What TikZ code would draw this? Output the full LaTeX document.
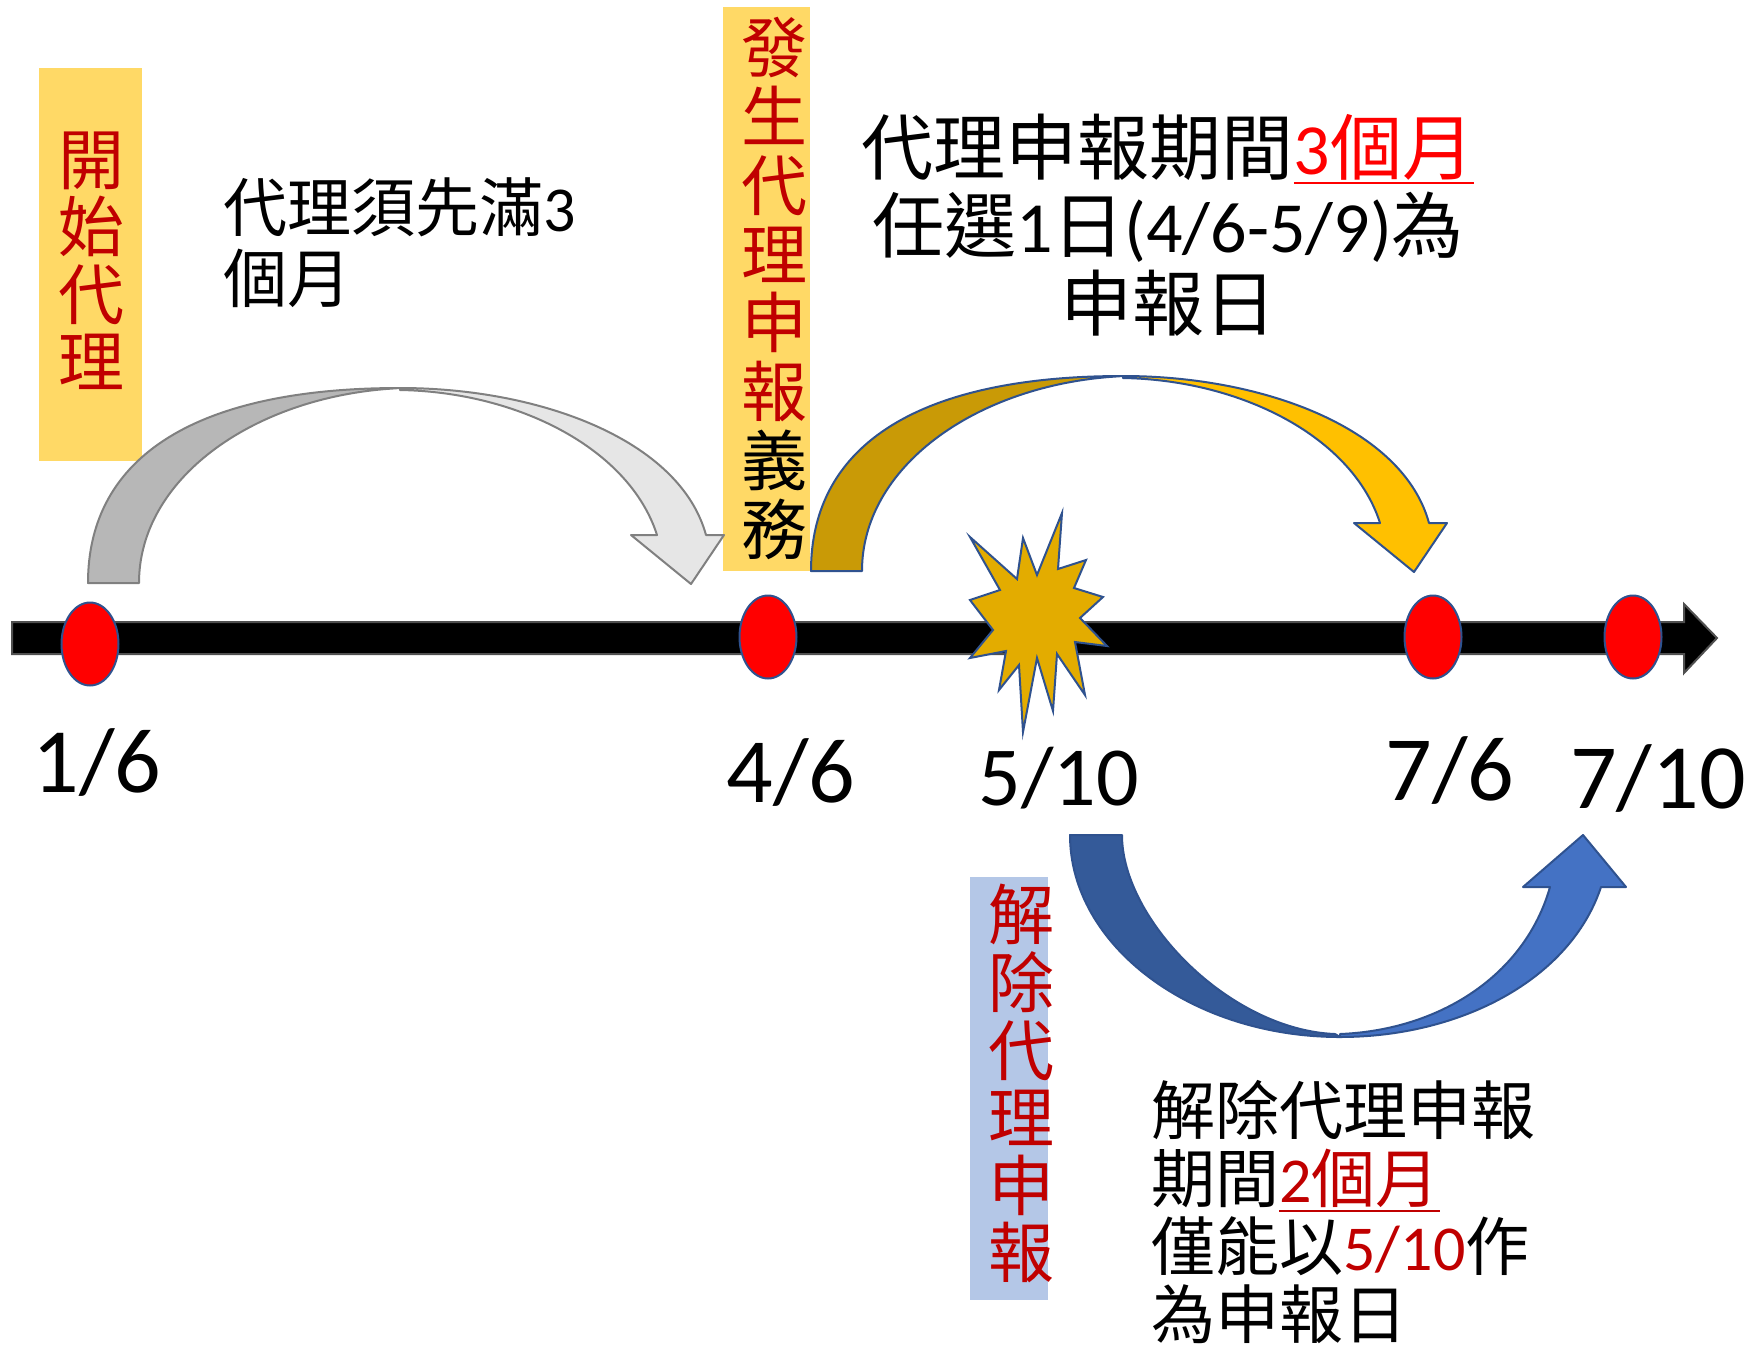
\documentclass[tikz,border=0pt]{standalone}
\usepackage{fontspec}
\setmainfont{Noto Sans CJK TC}
\newfontfamily\num{Carlito}
\newcommand{\uln}[1]{\leavevmode\setbox0\hbox{#1}\rlap{\rule[-4.5pt]{\wd0}{1pt}}\box0}
\usetikzlibrary{shapes.geometric}
\definecolor{boxyellow}{HTML}{FFD966}
\definecolor{boxblue}{HTML}{B4C7E7}
\definecolor{darkred}{HTML}{C00000}
\definecolor{edgeblue}{HTML}{2F528F}
\definecolor{graydark}{HTML}{B7B7B7}
\definecolor{graylight}{HTML}{E6E6E6}
\definecolor{grayedge}{HTML}{808080}
\definecolor{golddark}{HTML}{C99A06}
\definecolor{goldlight}{HTML}{FFC000}
\definecolor{bluedark}{HTML}{345A99}
\definecolor{bluelight}{HTML}{4472C4}
\definecolor{burst}{HTML}{E3AC00}
\definecolor{axisedge}{HTML}{505050}
\tikzset{
  datept/.style={ellipse,draw=edgeblue,line width=1pt,fill=red,minimum width=28.5pt,minimum height=41.5pt,inner sep=0pt},
  datelabel/.style={inner sep=0pt,anchor=base,font=\num\fontsize{46pt}{50pt}\selectfont},
  boxtext/.style={inner sep=0pt,anchor=north,align=center,text=darkred,font=\fontsize{33pt}{33.8pt}\selectfont},
  note/.style={inner sep=0pt,align=left,anchor=north west},
}
\newcommand{\humparrow}[4]{%
  \begin{scope}[shift={#1},line width=1pt,line join=round]
    \filldraw[fill=#2,draw=#4] (0,0) .. controls (0,-127) and (109,-195) .. (312,-195) -- (298,-194) .. controls (162,-183) and (51,-103) .. (51,0) -- cycle;
    \filldraw[fill=#3,draw=#4] (312,-195) .. controls (452,-195) and (592,-143) .. (618,-48) -- (636,-48) -- (603,1) -- (543,-48) -- (569,-48) .. controls (542,-133) and (432,-191) .. (312,-193) -- cycle;
  \end{scope}}
\begin{document}
\begin{tikzpicture}[x=0.5pt,y=-0.5pt]
    \useasboundingbox (0,0) rectangle (1763,1346);
    \fill[boxyellow] (39,68) rectangle (142,461);
    \fill[boxyellow] (723,7) rectangle (810,571);
    \fill[boxblue] (970,877) rectangle (1048,1300);
    \humparrow{(88,583)}{graydark}{graylight}{grayedge}
    \humparrow{(811,571)}{golddark}{goldlight}{edgeblue}
    \begin{scope}[line width=1pt,line join=round,draw=edgeblue]
    \filldraw[fill=bluedark] (1070,835) .. controls (1070,945) and (1191,1037) .. (1340,1037) -- (1335,1034) .. controls (1230,1030) and (1122,920) .. (1122,835) -- cycle;
    \filldraw[fill=bluelight] (1340,1037) .. controls (1460,1037) and (1570,980) .. (1601,887) -- (1626,887) -- (1583,835) -- (1523,887) -- (1550,887) .. controls (1525,975) and (1440,1030) .. (1340,1034) -- cycle;
    \end{scope}
    \filldraw[fill=black,draw=axisedge,line width=1pt] (12,622) -- (1684,622) -- (1684,604) -- (1717,638) -- (1684,673) -- (1684,654) -- (12,654) -- cycle;
    \filldraw[fill=burst,draw=edgeblue,line width=1pt,line join=miter] (1062,513) -- (1058,569) -- (1086,560) -- (1074,588) -- (1103,597) -- (1080,618) -- (1107,646) -- (1075,642) -- (1085,695) -- (1057,654) -- (1053,711) -- (1037,658) -- (1023,732) -- (1019,665) -- (999,690) -- (1006,651) -- (970,658) -- (993,630) -- (970,600) -- (1000,590) -- (970,537) -- (1017,579) -- (1023,538) -- (1037,575) -- cycle;
    \node[datept] (d16) at (90,644) {};
    \foreach \x/\n in {768/d46,1433/d76,1633/d710}
    \node[datept] (\n) at (\x,637) {};
    \node[datelabel] (l16) at (97,792) {1/6};
    \node[datelabel] (l46) at (791,802) {4/6};
    \node[datelabel,font=\num\fontsize{42pt}{46pt}\selectfont] (l510) at (1059,805) {5/10};
    \node[datelabel] (l76) at (1450,800) {7/6};
    \node[datelabel] (l710) at (1658,808) {7/10};
    \node[boxtext] (start) at (91,131) {開\\始\\代\\理};
    \node[boxtext,font=\fontsize{33pt}{34.4pt}\selectfont] (duty) at (774,17) {發\\生\\代\\理\\申\\報\\\textcolor{black}{義}\\\textcolor{black}{務}};
    \node[boxtext] (stop) at (1021,884) {解\\除\\代\\理\\申\\報};
    \node[note,font=\fontsize{32pt}{35.5pt}\selectfont] (wait) at (223,177) {代理須先滿{\num 3}\\個月};
    \node[inner sep=0pt,align=center,anchor=north,font=\fontsize{36pt}{39pt}\selectfont] (period) at (1168,114) {代理申報期間\textcolor{red}{\uln{{\num 3}個月}}\\任選{\num 1}日{\num (4/6-5/9)}為\\申報日};
    \node[note,font=\fontsize{32pt}{34pt}\selectfont] (release) at (1151,1080) {解除代理申報\\期間\textcolor{darkred}{\uln{{\num 2}個月}}\\僅能以\textcolor{darkred}{\num 5/10}作\\為申報日};
\end{tikzpicture}
\end{document}
